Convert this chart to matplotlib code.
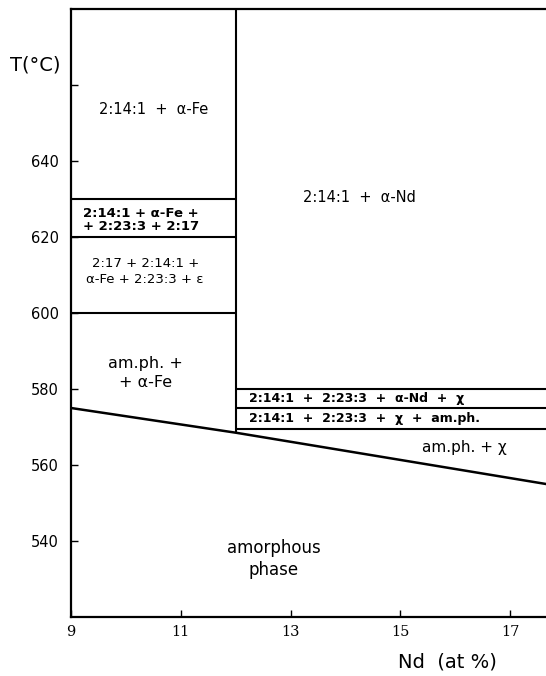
#phase diagram, Nd-Fe-B crystallisation
import matplotlib
matplotlib.use('Agg')
from matplotlib import pyplot as plt

# axes data
nd_ticks = [9, 11, 13, 15, 17]
nd_tick_labels = ['9', '11', '13', '15', '17']
t_ticks = [540, 560, 580, 600, 620, 640, 660]
t_tick_labels = ['540', '560', '580', '600', '620', '640', '']

# phase boundaries
divider_nd = 12
left_bounds_T = [630, 620, 600]        # between 9 and 12 at.%
right_bounds_T = [580, 575, 569.5]     # from 12 at.% to the right edge
solidus_nd = [9, 12, 17.65]
solidus_T = [575, 568.5, 555]

# region names
regions = ['2:14:1  +  α-Fe',
           '2:14:1 + α-Fe +\n+ 2:23:3 + 2:17',
           '2:17 + 2:14:1 +\nα-Fe + 2:23:3 + ε',
           'am.ph. +\n+ α-Fe',
           '2:14:1  +  α-Nd',
           '2:14:1  +  2:23:3  +  α-Nd  +  χ',
           '2:14:1  +  2:23:3  +  χ  +  am.ph.',
           'am.ph. + χ',
           'amorphous\nphase']

plt.rcParams['font.family'] = ['DejaVu Sans']
fig = plt.figure(figsize=(5.46, 6.76), dpi=100)
ax = fig.add_axes([71/546, 59/676, 1 - 71/546, 608/676])

xmin, xmax = 9, 17.65
ax.set_xlim(xmin, xmax)
ax.set_ylim(520, 680)

lw = 1.5
ax.hlines(left_bounds_T, xmin, divider_nd, color='black', lw=lw)
ax.hlines(right_bounds_T, divider_nd, xmax, color='black', lw=lw)
ax.vlines(divider_nd, solidus_T[1], 680, color='black', lw=lw)
ax.plot(solidus_nd, solidus_T, color='black', lw=lw + 0.3)

# labels
ax.text(10.5, 653.5, regions[0], ha='center', va='center', fontsize=10.5)
ax.text(9.22, 624.6, regions[1], ha='left', va='center', fontsize=9.5, fontweight='bold', linespacing=1.0)
ax.text(10.35, 610.8, regions[2], ha='center', va='center', fontsize=9.5, linespacing=1.3)
ax.text(10.35, 584.2, regions[3], ha='center', va='center', fontsize=11.5, linespacing=1.4)
ax.text(14.25, 630.5, regions[4], ha='center', va='center', fontsize=10.5)
ax.text(12.25, 577.4, regions[5], ha='left', va='center', fontsize=9, fontweight='bold')
ax.text(12.25, 572.2, regions[6], ha='left', va='center', fontsize=9, fontweight='bold')
ax.text(16.16, 564.7, regions[7], ha='center', va='center', fontsize=11)
ax.text(12.69, 535.3, regions[8], ha='center', va='center', fontsize=12, linespacing=1.25)

ax.set_xticks(nd_ticks)
ax.set_xticklabels(nd_tick_labels, family='DejaVu Serif')
ax.set_yticks(t_ticks)
ax.set_yticklabels(t_tick_labels)
ax.tick_params(direction='in', length=5, width=1, labelsize=10.5, pad=6)
ax.tick_params(axis='y', pad=9)

for side in ['left', 'bottom', 'top']:
    ax.spines[side].set_linewidth(1.6)
ax.spines['right'].set_visible(False)

fig.text(35/546, 1 - 65/676, 'T(°C)', ha='center', va='center', fontsize=14)
fig.text(447/546, 1 - 662/676, 'Nd  (at %)', ha='center', va='center', fontsize=14)

fig.savefig('out.png', dpi=100)
